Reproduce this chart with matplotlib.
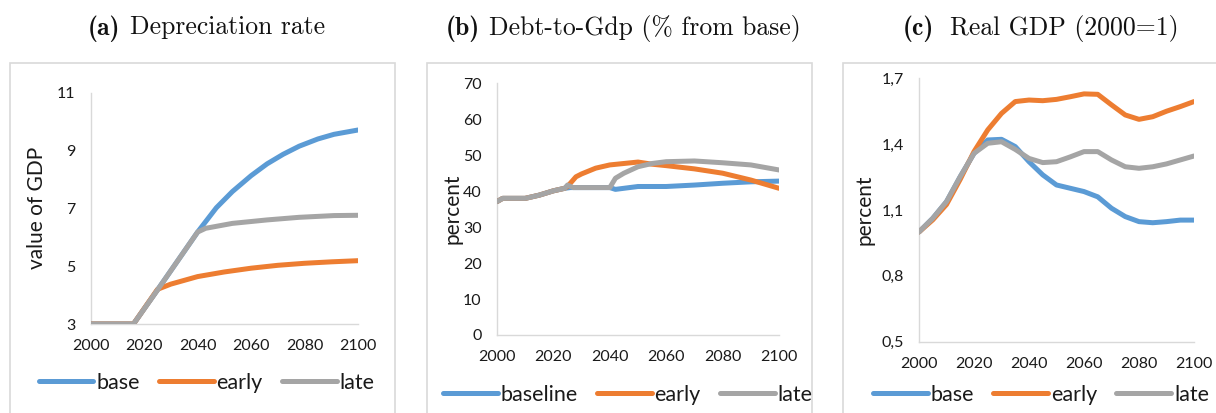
import matplotlib
matplotlib.use("Agg")
import matplotlib.pyplot as plt
from matplotlib.patches import Rectangle

plt.rcParams['font.family'] = ['Lato', 'DejaVu Sans']

C_BLUE = '#5B9BD5'
C_ORANGE = '#ED7D31'
C_GRAY = '#A5A5A5'

# ---------- (a) Depreciation rate ----------
a_base_years = [2000, 2016, 2025, 2040, 2041, 2047, 2053, 2060, 2066, 2072, 2078, 2085, 2091, 2100]
a_base_vals = [3.0, 3.0, 4.18, 6.18, 6.3, 7.02, 7.58, 8.13, 8.54, 8.87, 9.15, 9.4, 9.56, 9.71]
a_early_years = [2000, 2016, 2025, 2030, 2040, 2050, 2060, 2070, 2080, 2090, 2100]
a_early_vals = [3.0, 3.0, 4.2, 4.38, 4.64, 4.8, 4.93, 5.03, 5.1, 5.15, 5.19]
a_late_years = [2000, 2016, 2025, 2040, 2043, 2053, 2066, 2078, 2091, 2100]
a_late_vals = [3.0, 3.0, 4.18, 6.18, 6.31, 6.48, 6.6, 6.69, 6.75, 6.76]

# ---------- (b) Debt-to-Gdp ----------
b_base_years = [2000, 2002, 2010, 2015, 2020, 2024, 2026, 2040, 2042, 2045, 2050, 2060, 2070, 2080, 2090, 2100]
b_base_vals = [37.1, 38.0, 38.0, 38.9, 40.1, 40.8, 41.0, 41.0, 40.5, 40.8, 41.3, 41.3, 41.7, 42.2, 42.6, 42.8]
b_early_years = [2000, 2002, 2010, 2015, 2020, 2024, 2025, 2028, 2030, 2035, 2040, 2045, 2050, 2055, 2060, 2070, 2080, 2090, 2100]
b_early_vals = [37.1, 38.0, 38.0, 38.9, 40.1, 40.8, 41.3, 44.0, 44.8, 46.4, 47.3, 47.7, 48.1, 47.5, 47.1, 46.2, 45.0, 43.1, 40.8]
b_late_years = [2000, 2002, 2010, 2015, 2020, 2024, 2025, 2027, 2040, 2042, 2045, 2050, 2055, 2060, 2070, 2080, 2090, 2100]
b_late_vals = [37.1, 38.0, 38.0, 38.9, 40.1, 40.8, 41.7, 41.0, 41.0, 43.6, 45.0, 46.8, 47.7, 48.2, 48.4, 47.9, 47.3, 45.9]

# ---------- (c) Real GDP ----------
c_years = [2000, 2005, 2010, 2015, 2020, 2025, 2030, 2035, 2040, 2045, 2050, 2055, 2060,
           2065, 2070, 2075, 2080, 2085, 2090, 2095, 2100]
c_base_vals = [1.0, 1.062, 1.138, 1.252, 1.358, 1.419, 1.422, 1.389, 1.32, 1.26, 1.214, 1.199, 1.184,
               1.16, 1.108, 1.07, 1.047, 1.042, 1.047, 1.054, 1.054]
c_early_vals = [1.0, 1.055, 1.125, 1.24, 1.366, 1.465, 1.54, 1.594, 1.601, 1.598, 1.604, 1.616, 1.629,
                1.627, 1.579, 1.533, 1.513, 1.525, 1.55, 1.571, 1.594]
c_late_vals = [1.0, 1.062, 1.138, 1.252, 1.358, 1.404, 1.411, 1.376, 1.335, 1.316, 1.32, 1.342, 1.366,
               1.366, 1.328, 1.297, 1.29, 1.297, 1.31, 1.328, 1.346]

x_ticks = [2000, 2020, 2040, 2060, 2080, 2100]
a_yticks = [3, 5, 7, 9, 11]
b_yticks = [0, 10, 20, 30, 40, 50, 60, 70]
c_yticks = [0.5, 0.8, 1.1, 1.4, 1.7]
c_yticklabels = ['0,5', '0,8', '1,1', '1,4', '1,7']

title_tags = ['(a)', '(b)', '(c)']
title_texts = ['Depreciation rate', 'Debt-to-Gdp (% from base)', 'Real GDP (2000=1)']
ylabels = ['value of GDP', 'percent', 'percent']
legend_a = ['base', 'early', 'late']
legend_b = ['baseline', 'early', 'late']
legend_c = ['base', 'early', 'late']

W, H = 1216, 413
fig = plt.figure(figsize=(W / 100, H / 100), dpi=100)

def fx(px):
    return px / W

def fy(py):
    return 1 - py / H

# frames
for (l, r) in [(10, 395), (427, 812), (843, 1230)]:
    fig.patches.append(Rectangle((fx(l), fy(430)), fx(r - l), (430 - 62.7) / H,
                                 transform=fig.transFigure, fill=False,
                                 edgecolor='#d9d9d9', lw=1.2, zorder=0))

axes_px = [(90.7, 358, 92.7, 324), (497, 779, 83.3, 335), (919, 1194, 78.3, 341.7)]
axs = []
for (l, r, t, b) in axes_px:
    ax = fig.add_axes([fx(l), fy(b), fx(r - l), (b - t) / H])
    axs.append(ax)

LW = 3.6
series = [
    [(a_base_years, a_base_vals), (a_early_years, a_early_vals), (a_late_years, a_late_vals)],
    [(b_base_years, b_base_vals), (b_early_years, b_early_vals), (b_late_years, b_late_vals)],
    [(c_years, c_base_vals), (c_years, c_early_vals), (c_years, c_late_vals)],
]
legends = [legend_a, legend_b, legend_c]
ylims = [(3, 11), (0, 70), (0.5, 1.7)]
yticks = [a_yticks, b_yticks, c_yticks]
title_left = [88, 446, 903]
title_gap = [9, 9, 16]
leg_c = [(206.5, 383), (627.5, 395), (1041, 395)]
ylab_x = [37, 452, 865]

renderer = fig.canvas.get_renderer()

for i, ax in enumerate(axs):
    cols = [C_BLUE, C_ORANGE, C_GRAY]
    handles = []
    for (xs, ys), c, lab in zip(series[i], cols, legends[i]):
        h, = ax.plot(xs, ys, color=c, lw=LW, label=lab, solid_capstyle='round',
                     solid_joinstyle='round')
        handles.append(h)
    ax.set_xlim(2000, 2100)
    ax.set_ylim(*ylims[i])
    ax.set_xticks(x_ticks)
    ax.set_yticks(yticks[i])
    if i == 2:
        ax.set_yticklabels(c_yticklabels)
    for s in ['top', 'right']:
        ax.spines[s].set_visible(False)
    for s in ['left', 'bottom']:
        ax.spines[s].set_color('#d9d9d9')
        ax.spines[s].set_linewidth(1.0)
    ax.tick_params(length=0, labelsize=11.5, colors='#1a1a1a', pad=11)
    ax.patch.set_alpha(0)
    for sp in ax.spines.values():
        sp.set_zorder(0)
    fig.text(fx(ylab_x[i]), fy((axes_px[i][2] + axes_px[i][3]) / 2), ylabels[i],
             rotation=90, ha='center', va='center', fontsize=15, color='#1a1a1a')
    # title: bold tag + regular text
    t1 = fig.text(fx(title_left[i]), fy(25), title_tags[i], ha='left', va='center_baseline',
                  fontsize=18.5, family='cmb10', color='#111111')
    bb = t1.get_window_extent(renderer)
    fig.text(fx(title_left[i] + bb.width + title_gap[i]), fy(25), title_texts[i],
             ha='left', va='center_baseline', fontsize=18.5, family='cmr10', color='#111111')
    fig.legend(handles=handles, labels=legends[i], loc='center',
               bbox_to_anchor=(fx(leg_c[i][0]), fy(leg_c[i][1])),
               bbox_transform=fig.transFigure, ncol=3, frameon=False,
               fontsize=15.5, handlelength=2.55, handletextpad=0.12,
               columnspacing=0.9, borderpad=0, labelcolor='#1a1a1a')

fig.savefig('out.png', dpi=100)
